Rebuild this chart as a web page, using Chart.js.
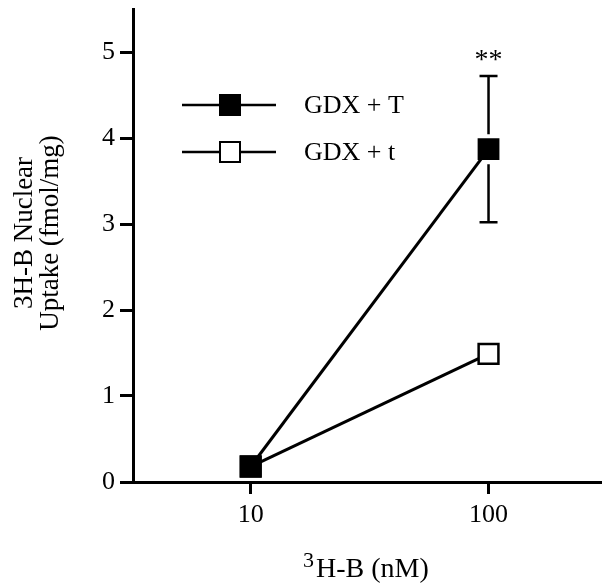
<!DOCTYPE html>
<html>
<head>
<meta charset="utf-8">
<script src="https://cdn.jsdelivr.net/npm/chart.js@4/dist/chart.umd.min.js"></script>
<style>
  html, body { margin: 0; padding: 0; background: #fff; }
  #wrap { width: 602px; height: 584px; }
</style>
</head>
<body>
<div id="wrap"><canvas id="chart" width="602" height="584"></canvas></div>
<script>
// data
const doses = [10, 100];
const gdxT = [0.18, 3.87];
const gdxTErr = [0, 0.85];
const gdxLow = [0.18, 1.49];
const seriesLabels = ['GDX + T', 'GDX + t'];
const xTicks = [10, 100];
const yTicks = [0, 1, 2, 3, 4, 5];
const sigMarks = ['', '**'];

const FONT = "'Liberation Serif', 'Times New Roman', serif";

function toPoints(xs, ys) {
    return xs.map((x, i) => ({ x: x, y: ys[i] }));
}

// error bars + significance stars
const errorBars = {
    id: 'errorBars',
    afterDatasetsDraw(chart) {
        const ctx = chart.ctx;
        const xs = chart.scales.x, ys = chart.scales.y;
        ctx.save();
        ctx.strokeStyle = '#000';
        ctx.lineWidth = 2.5;
        doses.forEach((d, i) => {
            const e = gdxTErr[i];
            if (!e) return;
            const px = xs.getPixelForValue(d);
            const pm = ys.getPixelForValue(gdxT[i]);
            const pt = ys.getPixelForValue(gdxT[i] + e);
            const pb = ys.getPixelForValue(gdxT[i] - e);
            const gap = 15;
            ctx.beginPath();
            ctx.moveTo(px, pt); ctx.lineTo(px, pm - gap);
            ctx.moveTo(px, pm + gap); ctx.lineTo(px, pb);
            ctx.moveTo(px - 9, pt); ctx.lineTo(px + 9, pt);
            ctx.moveTo(px - 9, pb); ctx.lineTo(px + 9, pb);
            ctx.stroke();
            if (sigMarks[i]) {
                ctx.fillStyle = '#000';
                ctx.font = '28px ' + FONT;
                ctx.textAlign = 'center';
                ctx.textBaseline = 'alphabetic';
                ctx.fillText(sigMarks[i], px, pt - 8);
            }
        });
        ctx.restore();
    }
};

// legend with line + marker, and axis titles
const decorations = {
    id: 'decorations',
    afterDraw(chart) {
        const ctx = chart.ctx;
        ctx.save();
        chart.data.datasets.forEach((ds, i) => {
            const y = 105 + i * 47;
            ctx.strokeStyle = '#000';
            ctx.lineWidth = 2.5;
            ctx.beginPath();
            ctx.moveTo(182, y); ctx.lineTo(276, y);
            ctx.stroke();
            ctx.fillStyle = ds.pointBackgroundColor;
            ctx.fillRect(220, y - 10, 20, 20);
            ctx.lineWidth = 2;
            ctx.strokeRect(220, y - 10, 20, 20);
            ctx.fillStyle = '#000';
            ctx.font = '26px ' + FONT;
            ctx.textAlign = 'left';
            ctx.textBaseline = 'middle';
            ctx.fillText(ds.label, 304, y + 1);
        });

        // y title, two lines rotated
        ctx.fillStyle = '#000';
        ctx.font = '27px ' + FONT;
        ctx.textAlign = 'center';
        ctx.textBaseline = 'alphabetic';
        ctx.save();
        ctx.translate(32, 233);
        ctx.rotate(-Math.PI / 2);
        ctx.fillText('3H-B Nuclear', 0, 0);
        ctx.fillText('Uptake (fmol/mg)', 0, 26);
        ctx.restore();

        // x title with raised 3
        ctx.textAlign = 'left';
        ctx.font = '22px ' + FONT;
        ctx.fillText('3', 303, 567);
        ctx.font = '28px ' + FONT;
        ctx.fillText('H-B (nM)', 316, 577);
        ctx.restore();
    }
};

const axisCommon = {
    grid: { display: true, drawOnChartArea: false, drawTicks: true, tickColor: '#000', tickWidth: 3 },
    border: { display: true, color: '#000', width: 3 },
    ticks: { color: '#000', font: { family: FONT, size: 26 }, autoSkip: false, maxRotation: 0 }
};

new Chart(document.getElementById('chart'), {
    type: 'line',
    data: {
        datasets: [{
            label: seriesLabels[0],
            data: toPoints(doses, gdxT),
            borderColor: '#000',
            borderWidth: 3,
            pointStyle: 'rect',
            pointRadius: 14,
            pointBorderWidth: 2,
            pointBorderColor: '#000',
            pointBackgroundColor: '#000'
        }, {
            label: seriesLabels[1],
            data: toPoints(doses, gdxLow),
            borderColor: '#000',
            borderWidth: 3,
            pointStyle: 'rect',
            pointRadius: 14,
            pointBorderWidth: 2.5,
            pointBorderColor: '#000',
            pointBackgroundColor: '#fff'
        }]
    },
    options: {
        responsive: false,
        animation: false,
        devicePixelRatio: 1,
        layout: { autoPadding: false, padding: { top: 9, right: 0, bottom: 0, left: 0 } },
        plugins: { legend: { display: false }, tooltip: { enabled: false } },
        scales: {
            x: {
                type: 'logarithmic',
                min: 3.2,
                max: 300,
                afterBuildTicks: s => { s.ticks = xTicks.map(v => ({ value: v })); },
                afterFit: s => { s.height = 102; s.paddingLeft = 0; s.paddingRight = 0; },
                grid: { ...axisCommon.grid, tickLength: 12 },
                border: axisCommon.border,
                ticks: { ...axisCommon.ticks, padding: 6, callback: v => String(v) }
            },
            y: {
                min: 0,
                max: 5.5,
                afterBuildTicks: s => { s.ticks = yTicks.map(v => ({ value: v })); },
                afterFit: s => { s.width = 133; s.paddingTop = 0; s.paddingBottom = 0; },
                grid: { ...axisCommon.grid, tickLength: 13 },
                border: axisCommon.border,
                ticks: { ...axisCommon.ticks, padding: 5, callback: v => String(v) }
            }
        }
    },
    plugins: [errorBars, decorations]
});
</script>
</body>
</html>
